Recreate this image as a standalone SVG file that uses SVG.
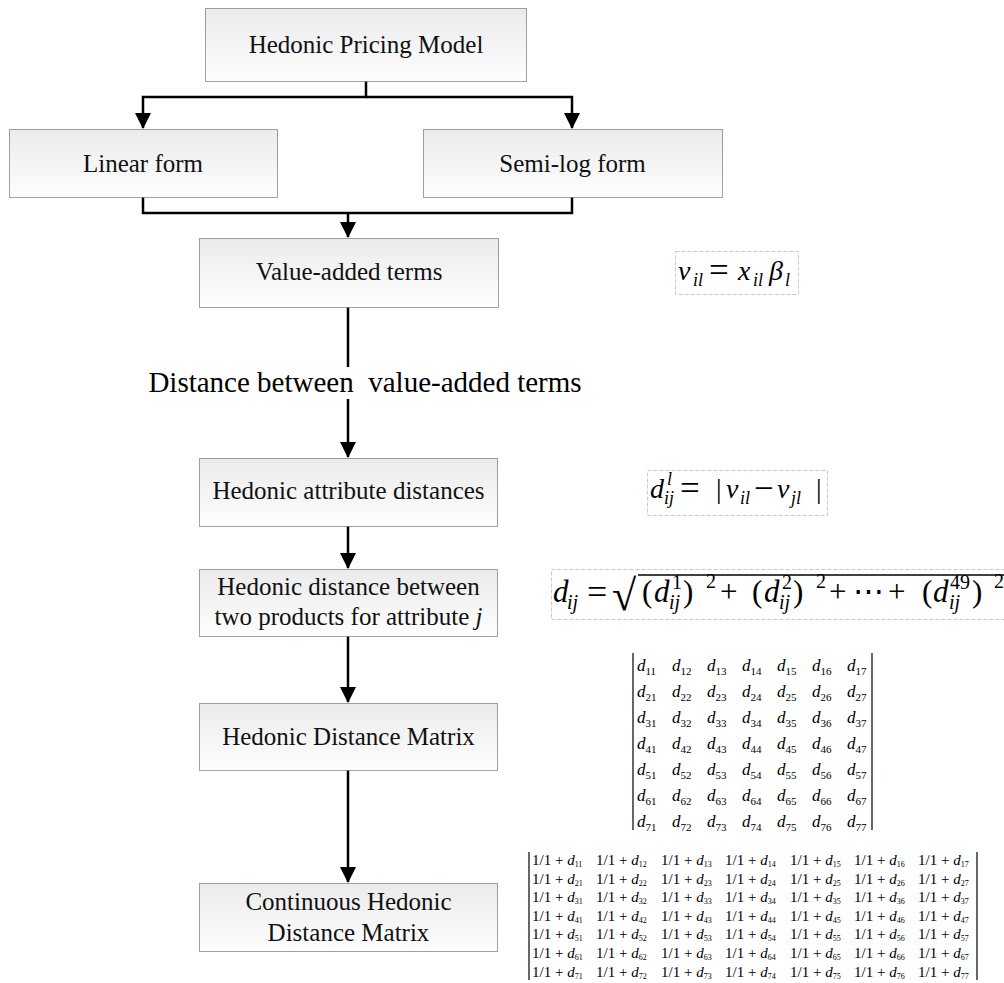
<svg xmlns="http://www.w3.org/2000/svg" width="1004" height="983" viewBox="0 0 1004 983">
<defs>
<linearGradient id="g" x1="0" y1="0" x2="0" y2="1">
<stop offset="0" stop-color="#ebebeb"/>
<stop offset="1" stop-color="#fefefe"/>
</linearGradient>
<marker id="ah" viewBox="0 0 16 16" refX="15" refY="8" markerWidth="16" markerHeight="16" markerUnits="userSpaceOnUse" orient="auto">
<path d="M0,0 L16,8 L0,16 z" fill="#000"/>
</marker>
</defs>
<style>
text{font-family:'Liberation Serif','Tinos','DejaVu Serif','Noto Serif',serif}
.box{fill:url(#g);stroke:#444;stroke-width:1;stroke-dasharray:1 1}
.lbl{font-size:25px;fill:#111;text-anchor:middle}
.con{fill:none;stroke:#000;stroke-width:2.5}
.arr{marker-end:url(#ah)}
.fb{fill:none;stroke:#c8c8c8;stroke-width:1;stroke-dasharray:4 2}
.m{fill:#000}
.i{font-style:italic}
.f{font-size:28px}
.eq{font-size:35px}
.f3{font-size:31px}
.s{font-size:18px}
.s3{font-size:20px}
.m1{font-size:17px}
.m1s{font-size:11px;font-style:normal}
.m2{font-size:15px}
.m2s{font-size:8px;font-style:normal}
.bar{stroke:#000;stroke-width:1.2}
</style>

<g id="connectors">
<path class="con arr" d="M366,81 V97 H143 V128"/>
<path class="con arr" d="M366,97 H572 V128"/>
<path class="con" d="M143,197 V213 H572 V197"/>
<path class="con arr" d="M348,213 V237"/>
<path class="con" d="M348,307 V367"/>
<path class="con arr" d="M348,399 V457"/>
<path class="con arr" d="M348,526 V568"/>
<path class="con arr" d="M348,636 V702"/>
<path class="con arr" d="M348,770 V882"/>
<text class="m" x="365" y="392" font-size="29" text-anchor="middle" fill="#111" xml:space="preserve">Distance between  value-added terms</text>
</g>

<g id="hedonic-pricing-model">
<rect class="box" x="205.5" y="8.5" width="321" height="73"/>
<text class="lbl" x="366" y="53">Hedonic Pricing Model</text>
</g>
<g id="linear-form">
<rect class="box" x="9.5" y="129.5" width="268" height="68"/>
<text class="lbl" x="143" y="172">Linear form</text>
</g>
<g id="semi-log-form">
<rect class="box" x="423.5" y="129.5" width="299" height="68"/>
<text class="lbl" x="572.5" y="172">Semi-log form</text>
</g>
<g id="value-added-terms">
<rect class="box" x="199.5" y="238.5" width="299" height="69"/>
<text class="lbl" x="349" y="280">Value-added terms</text>
</g>
<g id="hedonic-attribute-distances">
<rect class="box" x="199.5" y="458.5" width="298" height="68"/>
<text class="lbl" x="348.5" y="499">Hedonic attribute distances</text>
</g>
<g id="hedonic-distance-two-products">
<rect class="box" x="199.5" y="569.5" width="298" height="67"/>
<text class="lbl" x="348.5" y="595">Hedonic distance between</text>
<text class="lbl" x="348.5" y="625">two products for attribute <tspan font-style="italic">j</tspan></text>
</g>
<g id="hedonic-distance-matrix">
<rect class="box" x="199.5" y="703.5" width="298" height="67"/>
<text class="lbl" x="348.5" y="745">Hedonic Distance Matrix</text>
</g>
<g id="continuous-hedonic-distance-matrix">
<rect class="box" x="199.5" y="883.5" width="298" height="68"/>
<text class="lbl" x="348.5" y="910">Continuous Hedonic</text>
<text class="lbl" x="348.5" y="941">Distance Matrix</text>
</g>

<g id="formula-value-added">
<rect class="fb" x="675.5" y="251.5" width="123" height="43"/>
<text class="m f i" x="678" y="280">v</text>
<text class="m s i" x="693" y="286">il</text>
<text class="m eq" x="709" y="282">=</text>
<text class="m f i" x="738" y="280">x</text>
<text class="m s i" x="753" y="286">il</text>
<text class="m f i" x="769" y="280">β</text>
<text class="m s i" x="785" y="286">l</text>
</g>

<g id="formula-attribute-distance">
<rect class="fb" x="647.5" y="470.5" width="180" height="45"/>
<text class="m f i" x="650" y="498">d</text>
<text class="m s i" x="667" y="485">l</text>
<text class="m s i" x="664" y="504">ij</text>
<text class="m eq" x="680" y="500">=</text>
<text class="m f" x="716" y="498">|</text>
<text class="m f i" x="726" y="498">v</text>
<text class="m s i" x="740" y="504">il</text>
<text class="m eq" x="754" y="500">−</text>
<text class="m f i" x="777" y="498">v</text>
<text class="m s i" x="791" y="504">jl</text>
<text class="m f" x="816" y="498">|</text>
</g>

<g id="formula-hedonic-distance">
<rect class="fb" x="551.5" y="569.5" width="460" height="50"/>
<text class="m f3 i" x="553" y="602">d</text>
<text class="m s3 i" x="567" y="609">ij</text>
<text class="m" x="587" y="604" font-size="36">=</text>
<text class="m" x="612" y="610" font-size="44">√</text>
<line x1="638" y1="575" x2="1004" y2="575" stroke="#000" stroke-width="1.5"/>
<text class="m f3" x="642" y="602">(</text>
<text class="m f3 i" x="654" y="602">d</text>
<text class="m s3" x="672" y="589">1</text>
<text class="m s3 i" x="669" y="609">ij</text>
<text class="m f3" x="683" y="602">)</text>
<text class="m s3" x="706" y="588">2</text>
<text class="m f3" x="720" y="602">+</text>
<text class="m f3" x="752" y="602">(</text>
<text class="m f3 i" x="764" y="602">d</text>
<text class="m s3" x="782" y="589">2</text>
<text class="m s3 i" x="779" y="609">ij</text>
<text class="m f3" x="793" y="602">)</text>
<text class="m s3" x="816" y="588">2</text>
<text class="m f3" x="829" y="602">+</text>
<text class="m f3" x="853" y="602">⋯</text>
<text class="m f3" x="888" y="602">+</text>
<text class="m f3" x="922" y="602">(</text>
<text class="m f3 i" x="933" y="602">d</text>
<text class="m s3" x="950" y="589">49</text>
<text class="m s3 i" x="949" y="609">ij</text>
<text class="m f3" x="972" y="602">)</text>
<text class="m s3" x="994" y="588">2</text>
</g>

<g id="matrix-distance">
<line class="bar" x1="633" y1="653" x2="633" y2="830"/>
<line class="bar" x1="872" y1="653" x2="872" y2="830"/>
<text class="m m1 i" x="637" y="671">d<tspan class="m1s" dy="4">11</tspan></text>
<text class="m m1 i" x="672" y="671">d<tspan class="m1s" dy="4">12</tspan></text>
<text class="m m1 i" x="707" y="671">d<tspan class="m1s" dy="4">13</tspan></text>
<text class="m m1 i" x="742" y="671">d<tspan class="m1s" dy="4">14</tspan></text>
<text class="m m1 i" x="777" y="671">d<tspan class="m1s" dy="4">15</tspan></text>
<text class="m m1 i" x="812" y="671">d<tspan class="m1s" dy="4">16</tspan></text>
<text class="m m1 i" x="847" y="671">d<tspan class="m1s" dy="4">17</tspan></text>
<text class="m m1 i" x="637" y="697">d<tspan class="m1s" dy="4">21</tspan></text>
<text class="m m1 i" x="672" y="697">d<tspan class="m1s" dy="4">22</tspan></text>
<text class="m m1 i" x="707" y="697">d<tspan class="m1s" dy="4">23</tspan></text>
<text class="m m1 i" x="742" y="697">d<tspan class="m1s" dy="4">24</tspan></text>
<text class="m m1 i" x="777" y="697">d<tspan class="m1s" dy="4">25</tspan></text>
<text class="m m1 i" x="812" y="697">d<tspan class="m1s" dy="4">26</tspan></text>
<text class="m m1 i" x="847" y="697">d<tspan class="m1s" dy="4">27</tspan></text>
<text class="m m1 i" x="637" y="723">d<tspan class="m1s" dy="4">31</tspan></text>
<text class="m m1 i" x="672" y="723">d<tspan class="m1s" dy="4">32</tspan></text>
<text class="m m1 i" x="707" y="723">d<tspan class="m1s" dy="4">33</tspan></text>
<text class="m m1 i" x="742" y="723">d<tspan class="m1s" dy="4">34</tspan></text>
<text class="m m1 i" x="777" y="723">d<tspan class="m1s" dy="4">35</tspan></text>
<text class="m m1 i" x="812" y="723">d<tspan class="m1s" dy="4">36</tspan></text>
<text class="m m1 i" x="847" y="723">d<tspan class="m1s" dy="4">37</tspan></text>
<text class="m m1 i" x="637" y="749">d<tspan class="m1s" dy="4">41</tspan></text>
<text class="m m1 i" x="672" y="749">d<tspan class="m1s" dy="4">42</tspan></text>
<text class="m m1 i" x="707" y="749">d<tspan class="m1s" dy="4">43</tspan></text>
<text class="m m1 i" x="742" y="749">d<tspan class="m1s" dy="4">44</tspan></text>
<text class="m m1 i" x="777" y="749">d<tspan class="m1s" dy="4">45</tspan></text>
<text class="m m1 i" x="812" y="749">d<tspan class="m1s" dy="4">46</tspan></text>
<text class="m m1 i" x="847" y="749">d<tspan class="m1s" dy="4">47</tspan></text>
<text class="m m1 i" x="637" y="775">d<tspan class="m1s" dy="4">51</tspan></text>
<text class="m m1 i" x="672" y="775">d<tspan class="m1s" dy="4">52</tspan></text>
<text class="m m1 i" x="707" y="775">d<tspan class="m1s" dy="4">53</tspan></text>
<text class="m m1 i" x="742" y="775">d<tspan class="m1s" dy="4">54</tspan></text>
<text class="m m1 i" x="777" y="775">d<tspan class="m1s" dy="4">55</tspan></text>
<text class="m m1 i" x="812" y="775">d<tspan class="m1s" dy="4">56</tspan></text>
<text class="m m1 i" x="847" y="775">d<tspan class="m1s" dy="4">57</tspan></text>
<text class="m m1 i" x="637" y="801">d<tspan class="m1s" dy="4">61</tspan></text>
<text class="m m1 i" x="672" y="801">d<tspan class="m1s" dy="4">62</tspan></text>
<text class="m m1 i" x="707" y="801">d<tspan class="m1s" dy="4">63</tspan></text>
<text class="m m1 i" x="742" y="801">d<tspan class="m1s" dy="4">64</tspan></text>
<text class="m m1 i" x="777" y="801">d<tspan class="m1s" dy="4">65</tspan></text>
<text class="m m1 i" x="812" y="801">d<tspan class="m1s" dy="4">66</tspan></text>
<text class="m m1 i" x="847" y="801">d<tspan class="m1s" dy="4">67</tspan></text>
<text class="m m1 i" x="637" y="827">d<tspan class="m1s" dy="4">71</tspan></text>
<text class="m m1 i" x="672" y="827">d<tspan class="m1s" dy="4">72</tspan></text>
<text class="m m1 i" x="707" y="827">d<tspan class="m1s" dy="4">73</tspan></text>
<text class="m m1 i" x="742" y="827">d<tspan class="m1s" dy="4">74</tspan></text>
<text class="m m1 i" x="777" y="827">d<tspan class="m1s" dy="4">75</tspan></text>
<text class="m m1 i" x="812" y="827">d<tspan class="m1s" dy="4">76</tspan></text>
<text class="m m1 i" x="847" y="827">d<tspan class="m1s" dy="4">77</tspan></text>
</g>

<g id="matrix-continuous">
<line class="bar" x1="529" y1="852" x2="529" y2="980"/>
<line class="bar" x1="977" y1="852" x2="977" y2="980"/>
<text class="m m2" y="865"><tspan x="532">1/1 + </tspan><tspan class="i">d</tspan><tspan class="m2s" dy="2">11</tspan><tspan x="596" dy="-2">1/1 + </tspan><tspan class="i">d</tspan><tspan class="m2s" dy="2">12</tspan><tspan x="661" dy="-2">1/1 + </tspan><tspan class="i">d</tspan><tspan class="m2s" dy="2">13</tspan><tspan x="725" dy="-2">1/1 + </tspan><tspan class="i">d</tspan><tspan class="m2s" dy="2">14</tspan><tspan x="790" dy="-2">1/1 + </tspan><tspan class="i">d</tspan><tspan class="m2s" dy="2">15</tspan><tspan x="854" dy="-2">1/1 + </tspan><tspan class="i">d</tspan><tspan class="m2s" dy="2">16</tspan><tspan x="918" dy="-2">1/1 + </tspan><tspan class="i">d</tspan><tspan class="m2s" dy="2">17</tspan></text>
<text class="m m2" y="883.6"><tspan x="532">1/1 + </tspan><tspan class="i">d</tspan><tspan class="m2s" dy="2">21</tspan><tspan x="596" dy="-2">1/1 + </tspan><tspan class="i">d</tspan><tspan class="m2s" dy="2">22</tspan><tspan x="661" dy="-2">1/1 + </tspan><tspan class="i">d</tspan><tspan class="m2s" dy="2">23</tspan><tspan x="725" dy="-2">1/1 + </tspan><tspan class="i">d</tspan><tspan class="m2s" dy="2">24</tspan><tspan x="790" dy="-2">1/1 + </tspan><tspan class="i">d</tspan><tspan class="m2s" dy="2">25</tspan><tspan x="854" dy="-2">1/1 + </tspan><tspan class="i">d</tspan><tspan class="m2s" dy="2">26</tspan><tspan x="918" dy="-2">1/1 + </tspan><tspan class="i">d</tspan><tspan class="m2s" dy="2">27</tspan></text>
<text class="m m2" y="902.2"><tspan x="532">1/1 + </tspan><tspan class="i">d</tspan><tspan class="m2s" dy="2">31</tspan><tspan x="596" dy="-2">1/1 + </tspan><tspan class="i">d</tspan><tspan class="m2s" dy="2">32</tspan><tspan x="661" dy="-2">1/1 + </tspan><tspan class="i">d</tspan><tspan class="m2s" dy="2">33</tspan><tspan x="725" dy="-2">1/1 + </tspan><tspan class="i">d</tspan><tspan class="m2s" dy="2">34</tspan><tspan x="790" dy="-2">1/1 + </tspan><tspan class="i">d</tspan><tspan class="m2s" dy="2">35</tspan><tspan x="854" dy="-2">1/1 + </tspan><tspan class="i">d</tspan><tspan class="m2s" dy="2">36</tspan><tspan x="918" dy="-2">1/1 + </tspan><tspan class="i">d</tspan><tspan class="m2s" dy="2">37</tspan></text>
<text class="m m2" y="920.8"><tspan x="532">1/1 + </tspan><tspan class="i">d</tspan><tspan class="m2s" dy="2">41</tspan><tspan x="596" dy="-2">1/1 + </tspan><tspan class="i">d</tspan><tspan class="m2s" dy="2">42</tspan><tspan x="661" dy="-2">1/1 + </tspan><tspan class="i">d</tspan><tspan class="m2s" dy="2">43</tspan><tspan x="725" dy="-2">1/1 + </tspan><tspan class="i">d</tspan><tspan class="m2s" dy="2">44</tspan><tspan x="790" dy="-2">1/1 + </tspan><tspan class="i">d</tspan><tspan class="m2s" dy="2">45</tspan><tspan x="854" dy="-2">1/1 + </tspan><tspan class="i">d</tspan><tspan class="m2s" dy="2">46</tspan><tspan x="918" dy="-2">1/1 + </tspan><tspan class="i">d</tspan><tspan class="m2s" dy="2">47</tspan></text>
<text class="m m2" y="939.4"><tspan x="532">1/1 + </tspan><tspan class="i">d</tspan><tspan class="m2s" dy="2">51</tspan><tspan x="596" dy="-2">1/1 + </tspan><tspan class="i">d</tspan><tspan class="m2s" dy="2">52</tspan><tspan x="661" dy="-2">1/1 + </tspan><tspan class="i">d</tspan><tspan class="m2s" dy="2">53</tspan><tspan x="725" dy="-2">1/1 + </tspan><tspan class="i">d</tspan><tspan class="m2s" dy="2">54</tspan><tspan x="790" dy="-2">1/1 + </tspan><tspan class="i">d</tspan><tspan class="m2s" dy="2">55</tspan><tspan x="854" dy="-2">1/1 + </tspan><tspan class="i">d</tspan><tspan class="m2s" dy="2">56</tspan><tspan x="918" dy="-2">1/1 + </tspan><tspan class="i">d</tspan><tspan class="m2s" dy="2">57</tspan></text>
<text class="m m2" y="958"><tspan x="532">1/1 + </tspan><tspan class="i">d</tspan><tspan class="m2s" dy="2">61</tspan><tspan x="596" dy="-2">1/1 + </tspan><tspan class="i">d</tspan><tspan class="m2s" dy="2">62</tspan><tspan x="661" dy="-2">1/1 + </tspan><tspan class="i">d</tspan><tspan class="m2s" dy="2">63</tspan><tspan x="725" dy="-2">1/1 + </tspan><tspan class="i">d</tspan><tspan class="m2s" dy="2">64</tspan><tspan x="790" dy="-2">1/1 + </tspan><tspan class="i">d</tspan><tspan class="m2s" dy="2">65</tspan><tspan x="854" dy="-2">1/1 + </tspan><tspan class="i">d</tspan><tspan class="m2s" dy="2">66</tspan><tspan x="918" dy="-2">1/1 + </tspan><tspan class="i">d</tspan><tspan class="m2s" dy="2">67</tspan></text>
<text class="m m2" y="976.6"><tspan x="532">1/1 + </tspan><tspan class="i">d</tspan><tspan class="m2s" dy="2">71</tspan><tspan x="596" dy="-2">1/1 + </tspan><tspan class="i">d</tspan><tspan class="m2s" dy="2">72</tspan><tspan x="661" dy="-2">1/1 + </tspan><tspan class="i">d</tspan><tspan class="m2s" dy="2">73</tspan><tspan x="725" dy="-2">1/1 + </tspan><tspan class="i">d</tspan><tspan class="m2s" dy="2">74</tspan><tspan x="790" dy="-2">1/1 + </tspan><tspan class="i">d</tspan><tspan class="m2s" dy="2">75</tspan><tspan x="854" dy="-2">1/1 + </tspan><tspan class="i">d</tspan><tspan class="m2s" dy="2">76</tspan><tspan x="918" dy="-2">1/1 + </tspan><tspan class="i">d</tspan><tspan class="m2s" dy="2">77</tspan></text>
</g>
</svg>
